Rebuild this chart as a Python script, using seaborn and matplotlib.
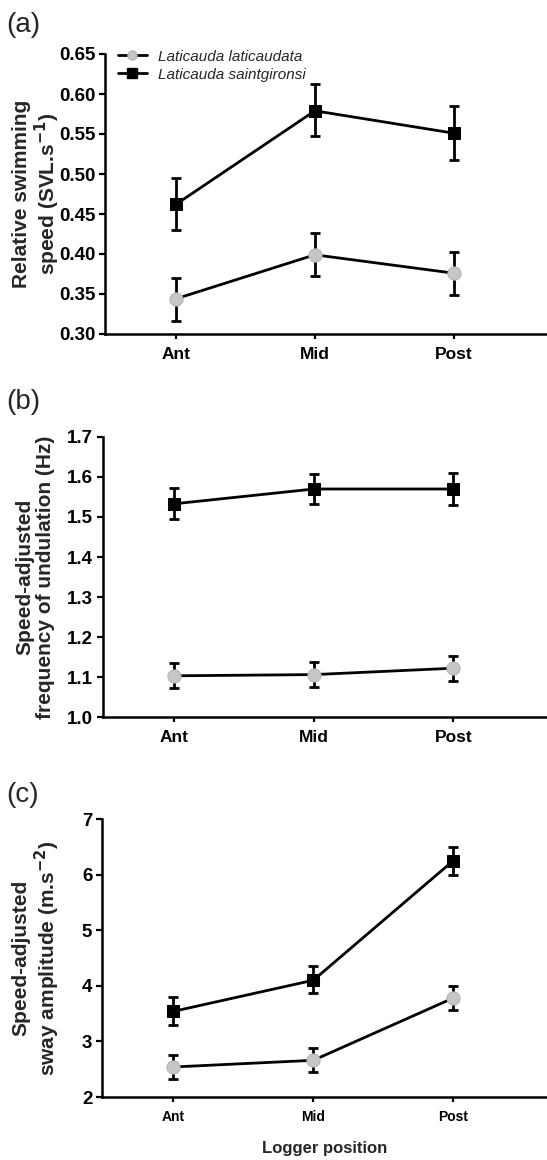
import numpy as np
import pandas as pd
import seaborn as sns
import matplotlib.pyplot as plt
from matplotlib.lines import Line2D

positions = ["Ant", "Mid", "Post"]
species = ["Laticauda laticaudata", "Laticauda saintgironsi"]

# (a) relative swimming speed
speed_lat = [0.344, 0.399, 0.376]
speed_lat_lo = [0.316, 0.372, 0.349]
speed_lat_hi = [0.370, 0.426, 0.402]
speed_sai = [0.462, 0.579, 0.551]
speed_sai_lo = [0.430, 0.548, 0.518]
speed_sai_hi = [0.495, 0.612, 0.585]

# (b) frequency of undulation
freq_lat = [1.103, 1.106, 1.122]
freq_lat_lo = [1.072, 1.075, 1.090]
freq_lat_hi = [1.135, 1.137, 1.153]
freq_sai = [1.533, 1.570, 1.570]
freq_sai_lo = [1.495, 1.533, 1.530]
freq_sai_hi = [1.573, 1.608, 1.610]

# (c) sway amplitude
sway_lat = [2.54, 2.66, 3.78]
sway_lat_lo = [2.33, 2.45, 3.56]
sway_lat_hi = [2.75, 2.88, 3.99]
sway_sai = [3.54, 4.10, 6.25]
sway_sai_lo = [3.30, 3.87, 6.00]
sway_sai_hi = [3.79, 4.35, 6.50]

sns.set_style("ticks")
plt.rcParams['font.family'] = ['Liberation Sans', 'DejaVu Sans']

fig = plt.figure(figsize=(5.47, 11.6), dpi=100)
W, H = 547, 1160


def px_axes(left, top, bottom, right=547):
    return fig.add_axes([left / W, 1 - bottom / H, (right - left) / W, (bottom - top) / H])


styles = {
    species[0]: dict(marker="o", markerfacecolor="#c6c6c6", markeredgecolor="#b4b4b4",
                     markersize=9.5),
    species[1]: dict(marker="s", markerfacecolor="black", markeredgecolor="black",
                     markersize=8.5),
}


def panel(ax, series, ylim, yticks, fmt, ylabel, tick_fs, lab_px):
    x = np.arange(len(positions))
    for sp, (m, lo, hi) in zip(species, series):
        df = pd.DataFrame({"x": x, "y": m})
        m = np.array(m)
        ax.errorbar(x, m, yerr=[m - np.array(lo), np.array(hi) - m], fmt="none",
                    ecolor="black", elinewidth=2, capsize=3.5, capthick=2, zorder=2)
        sns.lineplot(data=df, x="x", y="y", ax=ax, color="black", lw=2,
                     zorder=3, **styles[sp])
    ax.set_xlim(-0.51, 2.67)
    ax.set_ylim(*ylim)
    ax.set_yticks(yticks)
    ax.set_yticklabels([fmt.format(v) for v in yticks], fontsize=13.5, fontweight="bold")
    ax.set_xticks(x)
    ax.set_xticklabels(positions, fontsize=tick_fs, fontweight="bold")
    ax.set_xlabel("")
    ax.set_ylabel(ylabel, fontsize=15, fontweight="bold", linespacing=1.1)
    bb = ax.get_position()
    left_px = bb.x0 * W
    ax.yaxis.set_label_coords((lab_px - left_px) / (bb.width * W), 0.5)
    sns.despine(ax=ax)
    for s in ("left", "bottom"):
        ax.spines[s].set_linewidth(1.8)
        ax.spines[s].set_color("black")
    ax.tick_params(axis="y", length=4, width=1.6, pad=3, colors="black")
    ax.tick_params(axis="x", length=3.5, width=1.6, pad=6, colors="black")


ax1 = px_axes(105, 54, 334)
panel(ax1, [(speed_lat, speed_lat_lo, speed_lat_hi), (speed_sai, speed_sai_lo, speed_sai_hi)],
      (0.30, 0.65), np.arange(0.30, 0.651, 0.05), "{:.2f}",
      "Relative swimming\nspeed (SVL.s$^{\\mathbf{-1}}$)", 12.5, 62)

ax2 = px_axes(103, 437, 717)
panel(ax2, [(freq_lat, freq_lat_lo, freq_lat_hi), (freq_sai, freq_sai_lo, freq_sai_hi)],
      (1.0, 1.7), np.arange(1.0, 1.71, 0.1), "{:.1f}",
      "Speed-adjusted\nfrequency of undulation (Hz)", 12.5, 55)

ax3 = px_axes(102, 819, 1097)
panel(ax3, [(sway_lat, sway_lat_lo, sway_lat_hi), (sway_sai, sway_sai_lo, sway_sai_hi)],
      (2, 7), np.arange(2, 8, 1), "{:.0f}",
      "Speed-adjusted\nsway amplitude (m.s$^{\\mathbf{-2}}$)", 10, 62)
ax3.set_xlabel("Logger position", fontsize=12, fontweight="bold", labelpad=12)

handles = [Line2D([], [], color="black", lw=2, marker=styles[sp]["marker"],
                  markerfacecolor=styles[sp]["markerfacecolor"],
                  markeredgecolor=styles[sp]["markeredgecolor"], markersize=6.5)
           for sp in species]
ax1.legend(handles, species, loc="upper left", bbox_to_anchor=(0.029, 1.015),
           frameon=False, borderpad=0, borderaxespad=0, handlelength=1.9,
           handletextpad=0.7, labelspacing=0.25,
           prop=dict(family="Liberation Sans", style="italic", size=11))

for lab, yc in [("(a)", 25), ("(b)", 402), ("(c)", 795)]:
    fig.text(6 / W, 1 - yc / H, lab, fontsize=20, va="center", ha="left")

fig.savefig("out.png", dpi=100)
